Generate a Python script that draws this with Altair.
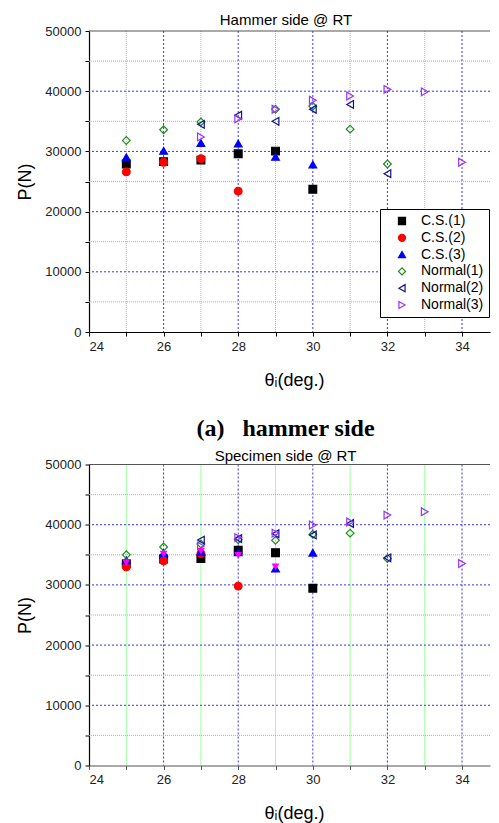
import altair as alt
import pandas as pd

series_names = ["C.S.(1)", "C.S.(2)", "C.S.(3)", "Normal(1)", "Normal(2)", "Normal(3)"]
stroke_colors = ["#000000", "#ff0000", "#0000ff", "#1e8c1e", "#121290", "#9933ff"]
fill_colors = ["#000000", "#ff0000", "#0000ff", "transparent", "transparent", "transparent"]
shapes = ["square", "circle", "triangle-up", "diamond", "triangle-left", "triangle-right"]

# Hammer side @ RT
h_cs1_x = [25, 26, 27, 28, 29, 30]
h_cs1_y = [27900, 28300, 28550, 29600, 30050, 23700]
h_cs2_x = [25, 26, 27, 28]
h_cs2_y = [26600, 28200, 28800, 23400]
h_cs3_x = [25, 26, 27, 28, 29, 30]
h_cs3_y = [29000, 30100, 31400, 31300, 29100, 27800]
h_n1_x = [25, 26, 27, 29, 30, 31, 32]
h_n1_y = [31800, 33600, 34900, 37000, 37500, 33700, 27900]
h_n2_x = [27, 28, 29, 30, 31, 32]
h_n2_y = [34500, 36000, 35000, 37000, 37800, 26300]
h_n3_x = [27, 28, 29, 30, 31, 32, 33, 34]
h_n3_y = [32400, 35400, 37000, 38500, 39200, 40300, 39900, 28200]

# Specimen side @ RT
s_cs1_x = [25, 26, 27, 28, 29, 30]
s_cs1_y = [33500, 34300, 34400, 35750, 35350, 29450]
s_cs2_x = [25, 26, 27, 28]
s_cs2_y = [33000, 34000, 35200, 29800]
s_cs3_x = [25, 26, 27, 28, 29, 30]
s_cs3_y = [34100, 35300, 35500, 35400, 32700, 35350]
s_n1_x = [25, 26, 27, 28, 29, 30, 31, 32]
s_n1_y = [35000, 36300, 36800, 37500, 37400, 38400, 38600, 34400]
s_n2_x = [27, 28, 29, 30, 31, 32]
s_n2_y = [37450, 37700, 38500, 38300, 40200, 34500]
s_n3_x = [27, 28, 29, 30, 31, 32, 33, 34]
s_n3_y = [36450, 37850, 38600, 39950, 40450, 41600, 42150, 33550]
s_extra_x = [25, 26, 27, 28, 29]
s_extra_y = [33700, 35100, 35600, 34900, 33000]

x_ticks = list(range(24, 35))
y_ticks = list(range(0, 50001, 5000))
major_x = [26, 28, 30, 32, 34]
minor_x = [25, 27, 29, 31, 33]
major_y = [10000, 20000, 30000, 40000]
minor_y = [5000, 15000, 25000, 35000, 45000]
top_y = [50000]
x_domain = [24, 34.75]
y_domain = [0, 50000]

FONT = "Liberation Sans"


def build_df(xs_list, ys_list):
    rows = []
    for name, xs, ys in zip(series_names, xs_list, ys_list):
        for x, y in zip(xs, ys):
            rows.append({"theta": x, "P": y, "series": name})
    return pd.DataFrame(rows)


def panel(df, title, lx, ly, extra=None, base_color="black"):
    xs = alt.Scale(domain=x_domain, nice=False, zero=False)
    ys = alt.Scale(domain=y_domain, nice=False, zero=False)
    xaxis = alt.Axis(
        values=x_ticks, grid=False,
        labelExpr="datum.value % 2 == 0 ? datum.label : ''",
        title="θᵢ(deg.)", titleFont=FONT, titleFontSize=18,
        titleFontWeight="normal", titleColor="black", titlePadding=18,
        titleX=205,
        labelFont=FONT, labelFontSize=13, labelColor="#222222",
        labelPadding=4, tickSize=4, tickColor=base_color,
        domainColor=base_color, domainWidth=1.2,
    )
    yaxis = alt.Axis(
        values=y_ticks, grid=False, format="d",
        labelExpr="datum.value % 10000 == 0 ? datum.label : ''",
        title="P(N)", titleFont=FONT, titleFontSize=18,
        titleFontWeight="normal", titleColor="black", titlePadding=10,
        labelFont=FONT, labelFontSize=13, labelColor="#222222",
        labelPadding=4, tickSize=4, tickColor="black",
        domainColor="black", domainWidth=1.2,
    )
    X = lambda f: alt.X(f, scale=xs, axis=xaxis)
    Y = lambda f: alt.Y(f, scale=ys, axis=yaxis)

    gx_minor = alt.Chart(pd.DataFrame({"v": minor_x})).mark_rule(
        color="#3cff3c", strokeDash=[1, 1], strokeWidth=1
    ).encode(x=X("v:Q"))
    gy_minor = alt.Chart(pd.DataFrame({"v": minor_y})).mark_rule(
        color="#3cff3c", strokeDash=[1, 1], strokeWidth=1
    ).encode(y=Y("v:Q"))
    gx_major = alt.Chart(pd.DataFrame({"v": major_x})).mark_rule(
        color="#3333ff", strokeDash=[2, 2], strokeWidth=1
    ).encode(x=X("v:Q"))
    gy_major = alt.Chart(pd.DataFrame({"v": major_y})).mark_rule(
        color="#3333ff", strokeDash=[2, 2], strokeWidth=1
    ).encode(y=Y("v:Q"))
    top_rule = alt.Chart(pd.DataFrame({"v": top_y})).mark_rule(
        color="#555555", strokeWidth=1.2
    ).encode(y=Y("v:Q"))

    leg = alt.Legend(
        title=None, orient="none", legendX=lx, legendY=ly,
        fillColor="white", strokeColor="black", padding=5,
        labelFont=FONT, labelFontSize=14, labelColor="black",
        symbolSize=50, rowPadding=2.8, labelOffset=12, symbolOffset=10,
        symbolStrokeWidth=1.2, cornerRadius=0,
    )
    points = alt.Chart(df).mark_point(size=60, opacity=1, strokeWidth=1.2).encode(
        x=X("theta:Q"),
        y=Y("P:Q"),
        stroke=alt.Stroke("series:N", scale=alt.Scale(domain=series_names, range=stroke_colors), legend=leg),
        fill=alt.Fill("series:N", scale=alt.Scale(domain=series_names, range=fill_colors), legend=leg),
        shape=alt.Shape("series:N", scale=alt.Scale(domain=series_names, range=shapes), legend=leg),
    )
    layers = [gx_minor, gy_minor, gx_major, gy_major, top_rule, points]
    if extra is not None:
        ex = alt.Chart(extra).mark_point(
            shape="triangle-down", filled=True, color="#ff00ff", size=60, opacity=1
        ).encode(x=X("theta:Q"), y=Y("P:Q"))
        layers.append(ex)
    return alt.layer(*layers).properties(width=401, height=301, title=title)


hammer_df = build_df(
    [h_cs1_x, h_cs2_x, h_cs3_x, h_n1_x, h_n2_x, h_n3_x],
    [h_cs1_y, h_cs2_y, h_cs3_y, h_n1_y, h_n2_y, h_n3_y],
)
spec_df = build_df(
    [s_cs1_x, s_cs2_x, s_cs3_x, s_n1_x, s_n2_x, s_n3_x],
    [s_cs1_y, s_cs2_y, s_cs3_y, s_n1_y, s_n2_y, s_n3_y],
)
extra_df = pd.DataFrame({"theta": s_extra_x, "P": s_extra_y})

top = panel(
    hammer_df,
    alt.TitleParams("Hammer side @ RT", font=FONT, fontSize=15, fontWeight="normal",
                    color="black", anchor="middle", offset=-2.5, dx=-3.5),
    291, 178,
)
bottom = panel(
    spec_df,
    alt.TitleParams("(a)\u2002 hammer side", subtitle="Specimen side @ RT",
                    font="Liberation Serif", fontSize=24, fontWeight="bold",
                    color="black", subtitleFont=FONT, subtitleFontSize=15,
                    subtitleColor="black", subtitlePadding=8,
                    anchor="middle", offset=-5.5, dx=-4),
    295, 181, extra=extra_df, base_color="#555555",
)

chart = alt.vconcat(top, bottom, spacing=27.5).properties(
    padding={"left": 8, "top": 4, "right": 0, "bottom": 0}
).configure_view(stroke=None)

chart.save("out.html", embed_options={"renderer": "svg", "actions": False})
